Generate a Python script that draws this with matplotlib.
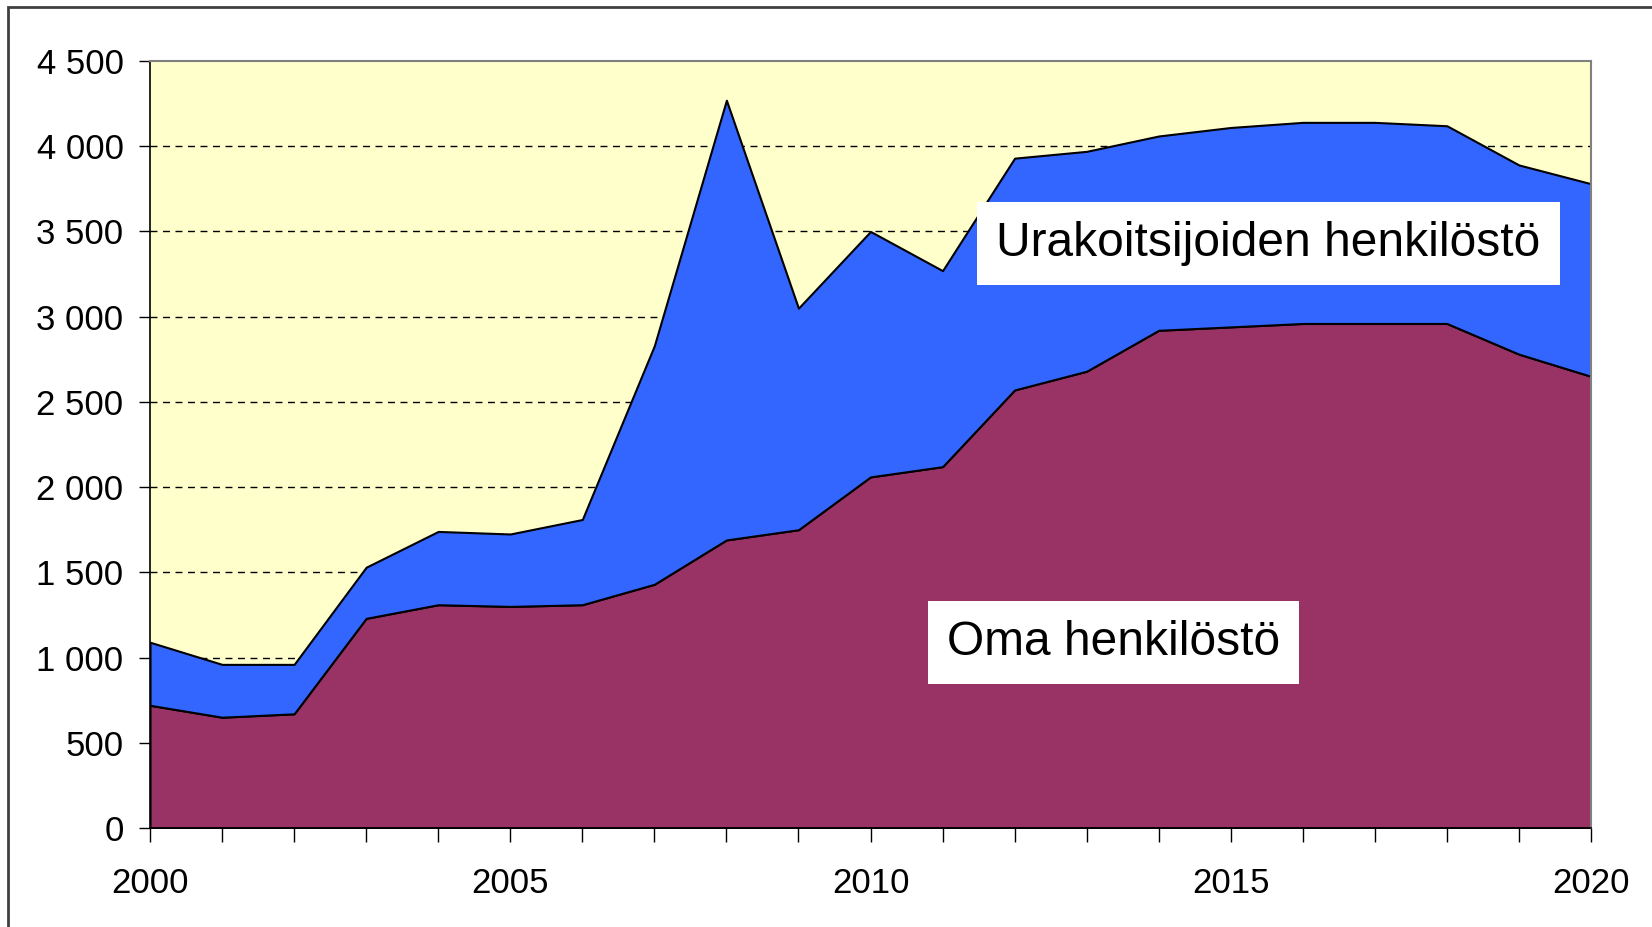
import numpy as np
import matplotlib
matplotlib.use("Agg")
from matplotlib import pyplot as plt
from matplotlib.ticker import FuncFormatter, MultipleLocator
from matplotlib.patches import Rectangle

plt.rcParams['font.family'] = ['Liberation Sans', 'DejaVu Sans']

###
years = list(range(2000, 2021))
oma = [720, 650, 670, 1230, 1310, 1300, 1310, 1430, 1690, 1750, 2060,
       2120, 2570, 2680, 2920, 2940, 2960, 2960, 2960, 2780, 2650]
urakoitsijat = [370, 310, 290, 300, 430, 425, 500, 1400, 2580, 1300, 1440,
                1150, 1360, 1290, 1140, 1170, 1180, 1180, 1160, 1110, 1130]
labels = ["Oma henkilöstö", "Urakoitsijoiden henkilöstö"]
colors = ["#993366", "#3366FF"]

###
fig = plt.figure(figsize=(16.52, 9.27), dpi=100)
ax = fig.add_axes([150/1652, 1-828/927, 1441/1652, 767/927])
ax.set_facecolor("#FFFFCC")

ax.stackplot(years, oma, urakoitsijat, colors=colors, edgecolor="black",
             linewidth=1.5, zorder=2)

ax.set_xlim(2000, 2020)
ax.set_ylim(0, 4500)
ax.yaxis.set_major_locator(MultipleLocator(500))
ax.yaxis.set_major_formatter(FuncFormatter(lambda v, p: f"{int(v):,}".replace(",", " ")))
ax.set_xticks(years, minor=False)
ax.set_xticklabels([str(y) if y % 5 == 0 else "" for y in years])
ax.tick_params(axis="both", labelsize=25, direction="out", width=1, color="black")
ax.tick_params(axis="y", length=8, pad=11)
ax.tick_params(axis="x", length=10, pad=18)

for v in range(500, 4500, 500):
    ax.axhline(v, color="black", lw=1, ls=(0, (5, 4)), zorder=1)

for s in ["top", "right"]:
    ax.spines[s].set_color("#808080")
    ax.spines[s].set_linewidth(1.5)
for s in ["left", "bottom"]:
    ax.spines[s].set_color("black")
    ax.spines[s].set_linewidth(1.2)
for s in ax.spines.values():
    s.set_zorder(5)

box = dict(boxstyle="square,pad=0.4", facecolor="white", edgecolor="none")
ax.text(2015.52, 3430, labels[1], fontsize=34.5, ha="center", va="center",
        bbox=box, zorder=6)
ax.text(2013.37, 1090, labels[0], fontsize=34.5, ha="center", va="center",
        bbox=box, zorder=6)

# outer chart border (cropped)
fig.patches.append(Rectangle((8/1652, -0.1), 1.2, 1 - 7/927 + 0.1,
                             transform=fig.transFigure, fill=False,
                             edgecolor="#404040", lw=2))

plt.savefig("out.png", format="png")
